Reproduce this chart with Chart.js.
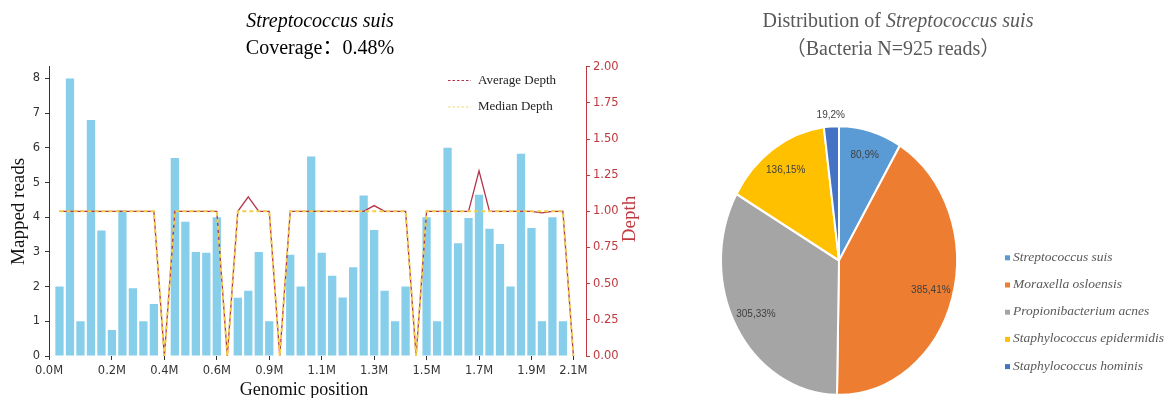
<!DOCTYPE html>
<html><head><meta charset="utf-8">
<script src="https://cdn.jsdelivr.net/npm/chart.js@4.4.1/dist/chart.umd.min.js"></script>
<style>
html,body{margin:0;padding:0;background:#fff;}
body{width:1171px;height:398px;position:relative;overflow:hidden;}
#c1{position:absolute;left:0;top:0;}
#c2{position:absolute;left:640px;top:0;}
</style></head><body>
<canvas id="c1" width="640" height="398"></canvas>
<canvas id="c2" width="531" height="398"></canvas>
<script>
// ---------- Coverage chart data ----------
const binPositions = [1,2,3,4,5,6,7,8,9,10,11,12,13,14,15,16,17,18,19,20,21,22,23,24,25,26,27,28,29,30,31,32,33,34,35,36,37,38,39,40,41,42,43,44,45,46,47,48,49,50];
const mappedReads = [2,8,1,6.8,3.62,0.75,4.2,1.95,1,1.5,0,5.71,3.87,3,2.98,4,0,1.68,1.88,3,1,0,2.92,2,5.75,2.98,2.31,1.69,2.56,4.63,3.63,1.88,1,2,0,4,1,6,3.25,3.98,4.65,3.67,3.23,2,5.83,3.69,1,4,1,0];
const averageDepth = [1,1,1,1,1,1,1,1,1,1,0,1,1,1,1,1,0,1,1.1,1,1,0,1,1,1,1,1,1,1,1,1.04,1,1,1,0,1,1,1,1,1,1.28,1,1,1,1,1,0.99,1,1,0];
const medianDepth = [1,1,1,1,1,1,1,1,1,1,0,1,1,1,1,1,0,1,1,1,1,0,1,1,1,1,1,1,1,1,1,1,1,1,0,1,1,1,1,1,1,1,1,1,1,1,1,1,1,0];
const xTickPositions = [0,6,11,16,21,26,31,36,41,46,50];
const xTickLabels = ['0.0M','0.2M','0.4M','0.6M','0.9M','1.1M','1.3M','1.5M','1.7M','1.9M','2.1M'];
const readsTicks = [0,1,2,3,4,5,6,7,8];
const depthTicks = [0,0.25,0.5,0.75,1,1.25,1.5,1.75,2];

// ---------- Distribution pie data ----------
const species = ['Streptococcus suis','Moraxella osloensis','Propionibacterium acnes','Staphylococcus epidermidis','Staphylococcus hominis'];
const speciesReads = [80,385,305,136,19];
const speciesPercent = [9,41,33,15,2];

const RED = '#c0393f';
const AVG = '#b5334a';
const MED = '#f0d04a';
const SERIF = '"Liberation Serif", "Noto Sans CJK SC", "Times New Roman", serif';
const SANS = '"DejaVu Sans", sans-serif';

const coverageDecor = {
  id: 'coverageDecor',
  afterDraw(chart) {
    const ctx = chart.ctx;
    ctx.save();
    // legend inside plot
    const items = [{t:'Average Depth', c:AVG, y:80.5}, {t:'Median Depth', c:'#ecd97a', y:107}];
    items.forEach(it => {
      ctx.strokeStyle = it.c; ctx.lineWidth = 1.2; ctx.setLineDash([2.5,2]);
      ctx.beginPath(); ctx.moveTo(448, it.y); ctx.lineTo(471, it.y); ctx.stroke();
      ctx.setLineDash([]);
      ctx.fillStyle = '#222'; ctx.font = '13px ' + SERIF;
      ctx.textAlign = 'left'; ctx.textBaseline = 'middle';
      ctx.fillText(it.t, 478, it.y);
    });
    // right axis title
    ctx.save();
    ctx.translate(630, 219); ctx.rotate(-Math.PI/2);
    ctx.fillStyle = RED; ctx.font = '19px ' + SERIF;
    ctx.textAlign = 'center'; ctx.textBaseline = 'middle';
    ctx.fillText('Depth', 0, 0);
    ctx.restore();
    // x axis title
    ctx.fillStyle = '#111'; ctx.font = '18px ' + SERIF;
    ctx.textAlign = 'center'; ctx.textBaseline = 'alphabetic';
    ctx.fillText('Genomic position', 304, 395);
    ctx.restore();
  }
};

new Chart(document.getElementById('c1'), {
  type: 'bar',
  data: {
    datasets: [
      {type:'line', label:'Median Depth', data: binPositions.map((x,i)=>({x:x, y:medianDepth[i]})), yAxisID:'y1',
       borderColor: MED, borderWidth: 2, borderDash:[4,3], pointRadius:0, tension:0, order:1},
      {type:'line', label:'Average Depth', data: binPositions.map((x,i)=>({x:x, y:averageDepth[i]})), yAxisID:'y1',
       borderColor: AVG, borderWidth: 1.3, pointRadius:0, tension:0, order:2},
      {type:'bar', label:'Mapped reads', data: binPositions.map((x,i)=>({x:x, y:mappedReads[i]})), yAxisID:'y',
       backgroundColor:'#87CEEB', barPercentage:0.79, categoryPercentage:1, order:3}
    ]
  },
  options: {
    responsive:false, animation:false,
    layout:{padding:0},
    plugins:{
      legend:{display:false}, tooltip:{enabled:false},
      title:{display:true, text:'Streptococcus suis', color:'#000',
        font:{family:SERIF, size:20, style:'italic', weight:'normal'}, padding:{top:10, bottom:3}},
      subtitle:{display:true, text:'Coverage：0.48%', color:'#000',
        font:{family:SERIF, size:20, weight:'normal'}, padding:{top:0, bottom:5.7}}
    },
    scales:{
      x:{type:'linear', min:0, max:51.2, offset:false,
        afterBuildTicks: s => { s.ticks = xTickPositions.map(v=>({value:v})); },
        afterFit: s => { s.height = 42; },
        ticks:{callback:(v)=>xTickLabels[xTickPositions.indexOf(v)], font:{family:SANS, size:11.5}, color:'#333', padding:4, maxRotation:0, autoSkip:false},
        grid:{drawOnChartArea:false, offset:false, tickLength:4, color:'#333'},
        border:{display:false}},
      y:{type:'linear', position:'left', min:0, max:8.34,
        afterBuildTicks: s => { s.ticks = readsTicks.map(v=>({value:v})); },
        afterFit: s => { s.width = 49; },
        ticks:{font:{family:SANS, size:11.5}, color:'#333', padding:5},
        grid:{drawOnChartArea:false, tickLength:4, color:'#333'},
        border:{display:true, color:'#333', width:1},
        title:{display:true, text:'Mapped reads', color:'#111', font:{family:SERIF, size:19}, padding:{top:8, bottom:0}}},
      y1:{type:'linear', position:'right', min:0, max:2,
        afterBuildTicks: s => { s.ticks = depthTicks.map(v=>({value:v})); },
        afterFit: s => { s.width = 54; },
        ticks:{font:{family:SANS, size:11.5}, color:RED, padding:3, callback:(v)=>Number(v).toFixed(2)},
        grid:{drawOnChartArea:false, tickLength:4, color:RED},
        border:{display:true, color:RED, width:1}}
    }
  },
  plugins:[coverageDecor]
});

// ---------- Pie ----------
const PIE_SY = 1.139;
const pieColors = ['#5B9BD5','#ED7D31','#A5A5A5','#FFC000','#4472C4'];

const pieStretch = {
  id:'pieStretch',
  beforeDatasetsDraw(chart){
    const a = chart.getDatasetMeta(0).data[0]; const ctx = chart.ctx;
    ctx.save(); ctx.translate(a.x, a.y); ctx.scale(1, PIE_SY); ctx.translate(-a.x, -a.y);
  },
  afterDatasetsDraw(chart){ chart.ctx.restore(); }
};

const pieDecor = {
  id:'pieDecor',
  afterDraw(chart){
    const ctx = chart.ctx;
    ctx.save();
    // title line 1 (mixed style)
    const p1 = 'Distribution of ', p2 = 'Streptococcus suis';
    const f1 = '20px ' + SERIF, f2 = 'italic 20px ' + SERIF;
    ctx.font = f1; const w1 = ctx.measureText(p1).width;
    ctx.font = f2; const w2 = ctx.measureText(p2).width;
    let x0 = 258 - (w1 + w2)/2;
    ctx.fillStyle = '#595959'; ctx.textBaseline = 'middle'; ctx.textAlign = 'left';
    ctx.font = f1; ctx.fillText(p1, x0, 22);
    ctx.font = f2; ctx.fillText(p2, x0 + w1, 22);
    ctx.font = f1; ctx.textAlign = 'center';
    ctx.fillText('（Bacteria N=925 reads）', 253, 50);
    // slice labels
    const meta = chart.getDatasetMeta(0);
    ctx.font = '10px "Liberation Sans", Arial, sans-serif';
    ctx.fillStyle = '#404040'; ctx.textAlign = 'center'; ctx.textBaseline = 'middle';
    meta.data.forEach((arc, i) => {
      const mid = (arc.startAngle + arc.endAngle)/2;
      const f = speciesPercent[i] < 5 ? 1.08 : 0.81;
      const px = arc.x + Math.cos(mid)*arc.outerRadius*f;
      const py = arc.y + Math.sin(mid)*arc.outerRadius*f*PIE_SY;
      ctx.fillText(speciesReads[i] + ',' + speciesPercent[i] + '%', px, py);
    });
    // legend
    species.forEach((s, i) => {
      const y = 257.3 + i*27.2;
      ctx.fillStyle = pieColors[i];
      ctx.fillRect(365, y - 2, 5, 5);
      ctx.fillStyle = '#595959'; ctx.font = 'italic 13.5px ' + SERIF;
      ctx.textAlign = 'left'; ctx.textBaseline = 'middle';
      ctx.fillText(s, 373, y);
    });
    ctx.restore();
  }
};

new Chart(document.getElementById('c2'), {
  type:'pie',
  data:{labels: species, datasets:[{data: speciesReads, backgroundColor: pieColors, borderColor:'#fff', borderWidth:2}]},
  options:{
    responsive:false, animation:false,
    layout:{padding:{left:80, right:213, top:141.5, bottom:18.5}},
    plugins:{legend:{display:false}, tooltip:{enabled:false}}
  },
  plugins:[pieStretch, pieDecor]
});
</script>
</body></html>
